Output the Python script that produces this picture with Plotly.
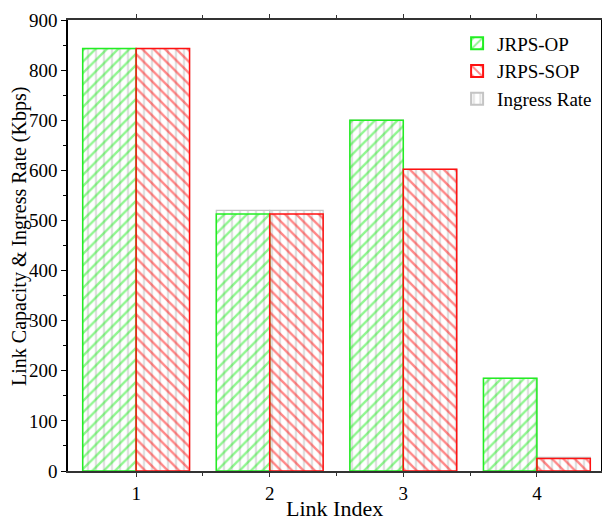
import plotly.graph_objects as go

links = [1, 2, 3, 4]
jrps_op = [843, 513, 700, 185]
jrps_sop = [843, 513, 602, 25]
ingress_op = [843, 520, 700, 185]
ingress_sop = [843, 520, 602, 27]

FONT = "Liberation Serif"
W = 0.4
GREEN = "#22ee22"
RED = "#ff1111"
GRAY = "#c4c4c4"

fig = go.Figure()

# Ingress rate (behind)
for i, (vals, off) in enumerate([(ingress_op, -W), (ingress_sop, 0)]):
    fig.add_trace(go.Bar(
        x=links, y=vals, width=W, offset=off, name="Ingress Rate",
        legendgroup="ing", legendrank=3, showlegend=(i == 0),
        marker=dict(color="rgba(0,0,0,0)", line=dict(color=GRAY, width=1.2),
                    pattern=dict(shape="|", fgcolor=GRAY, bgcolor="rgba(0,0,0,0)",
                                 size=8, solidity=0.3)),
    ))
fig.add_trace(go.Bar(
    x=links, y=jrps_op, width=W, offset=-W, name="JRPS-OP", legendrank=1,
    marker=dict(color="rgba(0,0,0,0)", line=dict(color=GREEN, width=1.5),
                pattern=dict(shape="/", fgcolor=GREEN, bgcolor="rgba(0,0,0,0)",
                             size=8, solidity=0.3)),
))
fig.add_trace(go.Bar(
    x=links, y=jrps_sop, width=W, offset=0, name="JRPS-SOP", legendrank=2,
    marker=dict(color="rgba(0,0,0,0)", line=dict(color=RED, width=1.5),
                pattern=dict(shape="\\", fgcolor=RED, bgcolor="rgba(0,0,0,0)",
                             size=8, solidity=0.3)),
))

fig.update_layout(
    width=602, height=514,
    margin=dict(l=60, r=2, t=7, b=51),
    barmode="overlay",
    plot_bgcolor="white", paper_bgcolor="white",
    font=dict(family=FONT, size=18, color="black"),
    showlegend=True,
    legend=dict(x=0.73, y=0.99, xanchor="left", yanchor="top",
                bgcolor="rgba(0,0,0,0)", font=dict(family=FONT, size=19),
                itemsizing="constant", tracegroupgap=0),
    xaxis=dict(
        range=[0.49, 4.48], tickvals=links, ticktext=[str(v) for v in links],
        showline=True, linecolor="#333", linewidth=2, mirror="ticks",
        ticks="outside", ticklen=4, tickcolor="#333",
        minor=dict(tickvals=[1.5, 2.5, 3.5], ticks="outside", ticklen=3, tickcolor="#333"),
        showgrid=False, zeroline=False, ticklabeloverflow="allow",
        tickfont=dict(family=FONT, size=19),
    ),
    yaxis=dict(
        range=[0, 900], dtick=100,
        showline=True, linecolor="black", linewidth=1.5, mirror="ticks",
        ticks="outside", ticklen=5, tickcolor="black",
        minor=dict(dtick=50, ticks="outside", ticklen=3, tickcolor="black"),
        showgrid=False, zeroline=False, ticklabeloverflow="allow",
        tickfont=dict(family=FONT, size=19),
    ),
    annotations=[
        dict(text="Link Index", xref="paper", yref="paper", x=0.5, y=-0.083,
             xanchor="center", yanchor="middle", showarrow=False,
             font=dict(family=FONT, size=22)),
        dict(text="Link Capacity & Ingress Rate (Kbps)", xref="paper", yref="paper",
             x=-0.091, y=0.52, xanchor="center", yanchor="middle", textangle=-90,
             showarrow=False, font=dict(family=FONT, size=20)),
    ],
)

fig.write_html("out.html")
